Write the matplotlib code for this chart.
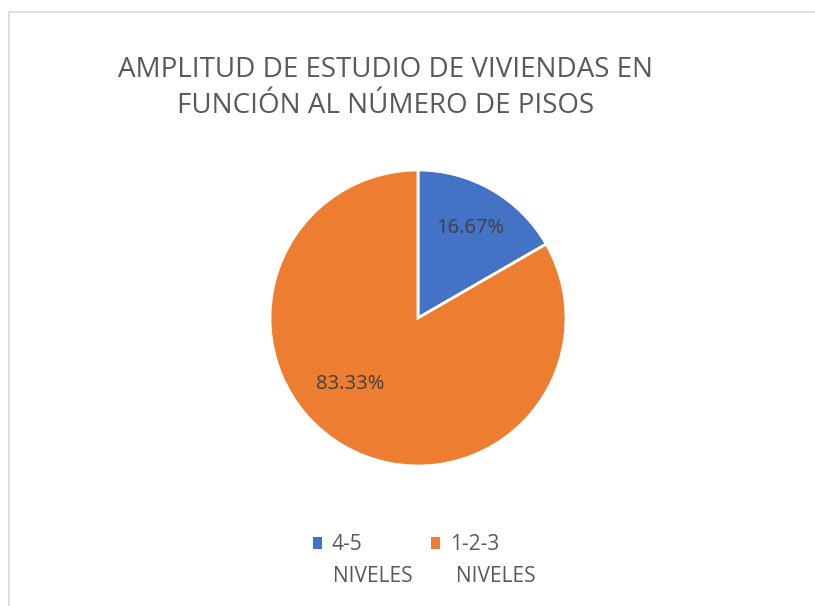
import matplotlib.pyplot as plt
from matplotlib.patches import Rectangle
import numpy as np

labels = ["4-5", "1-2-3"]
label_sub = "NIVELES"
values = [16.67, 83.33]
colors = ["#4472C4", "#ED7D31"]
title_lines = ["AMPLITUD DE ESTUDIO DE VIVIENDAS EN", "FUNCIÓN AL NÚMERO DE PISOS"]

plt.rcParams['font.family'] = ['Open Sans', 'DejaVu Sans']
W, H = 815, 606
fig = plt.figure(figsize=(W / 100, H / 100), dpi=100)

# chart area border (runs off the right and bottom edge)
fig.patches.append(Rectangle((8.5 / W, -0.1), 1.2, (H - 11.5) / H + 0.1,
                             transform=fig.transFigure, fill=False,
                             edgecolor="#D9D9D9", linewidth=1.2))

for i, line in enumerate(title_lines):
    fig.text(386 / W, 1 - (70 + 36 * i) / H, line, ha="center", va="center",
             fontsize=20, color="#595959")

r = 148
cx, cy = 418, 318
ax = fig.add_axes([(cx - r) / W, (H - cy - r) / H, 2 * r / W, 2 * r / H])
wedges, texts, autotexts = ax.pie(values, colors=colors, startangle=90,
                                  counterclock=False, radius=1,
                                  autopct="%.2f%%", pctdistance=0.7,
                                  wedgeprops=dict(edgecolor="white", linewidth=2),
                                  textprops=dict(color="#404040", fontsize=14.5))
# excel best-fit placement for the big slice label
ang = np.deg2rad(224)
autotexts[1].set_position((0.64 * np.cos(ang), 0.64 * np.sin(ang)))
ax.set_xlim(-1, 1)
ax.set_ylim(-1, 1)
ax.set_aspect("equal")
ax.axis("off")

leg = fig.legend(wedges, labels, loc="center", ncol=2,
                 bbox_to_anchor=(406 / W, 1 - 545 / H), frameon=False,
                 fontsize=15, handlelength=0.45, handleheight=0.45,
                 handletextpad=0.45, columnspacing=3.3, labelcolor="#595959")
for h in leg.legend_handles:
    h.set_edgecolor("none")

# wrapped second line of each legend entry
fig.canvas.draw()
inv = fig.transFigure.inverted()
for j, t in enumerate(leg.get_texts()):
    bb = t.get_window_extent()
    x0, _ = inv.transform((bb.x0 + 1 + 5 * j, 0))
    fig.text(x0, 1 - 577 / H, label_sub, ha="left", va="center",
             fontsize=15, color="#595959")

fig.savefig("out.png", dpi=100)
